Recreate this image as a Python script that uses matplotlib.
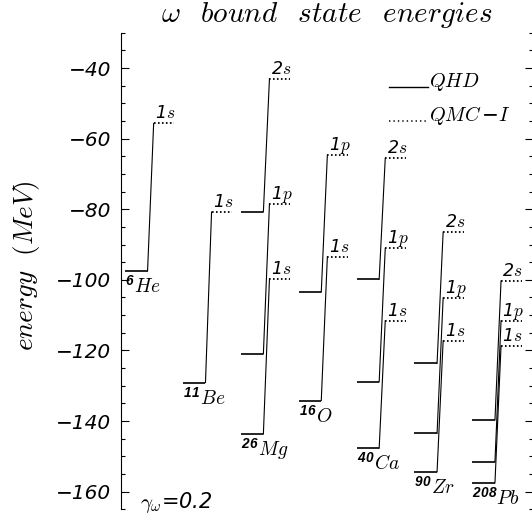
import matplotlib
matplotlib.use("Agg")
import matplotlib.pyplot as plt
from matplotlib.ticker import MultipleLocator

plt.rcParams['font.family'] = ['DejaVu Sans']
plt.rcParams['font.style'] = 'italic'
plt.rcParams['mathtext.fontset'] = 'custom'
plt.rcParams['mathtext.it'] = 'cmmi10'
plt.rcParams['mathtext.rm'] = 'DejaVu Sans:italic'
plt.rcParams['mathtext.bf'] = 'Liberation Sans:bold'
plt.rcParams['mathtext.sf'] = 'cmr10'
plt.rcParams['mathtext.fallback'] = 'cm'

# ---- data ----
nuclei = [r'$^{\mathbf{6}}He$', r'$^{\mathbf{11}}Be$', r'$^{\mathbf{26}}Mg$', r'$^{\mathbf{16}}O$',
          r'$^{\mathbf{40}}Ca$', r'$^{\mathbf{90}}Zr$', r'$^{\mathbf{208}}Pb$']
states = [['1s'], ['1s'], ['1s', '1p', '2s'], ['1s', '1p'],
          ['1s', '1p', '2s'], ['1s', '1p', '2s'], ['1s', '1p', '2s']]
qhd = [[-97.4], [-129.1], [-143.7, -121.0, -80.8], [-134.2, -103.5],
       [-147.7, -128.9, -99.9], [-154.4, -143.5, -123.7], [-157.5, -151.5, -139.7]]
qmc = [[-55.7], [-80.8], [-99.8, -78.5, -43.1], [-93.5, -64.7],
       [-111.6, -91.1, -65.6], [-117.3, -105.1, -86.5], [-118.7, -111.6, -100.3]]
yticks = [-160, -140, -120, -100, -80, -60, -40]
title = r'$\omega\ \ \,bound\ \ \,state\ \ \,energies$'
ylabel = r'$energy\ \ \mathsf{(}MeV\mathsf{)}$'
gamma_label = r'$\gamma_{\omega}$=0.2'

W, H = 532, 520
fig = plt.figure(figsize=(W / 100, H / 100), dpi=100)
ax = fig.add_axes([121 / W, 1 - 509.3 / H, (533 - 121) / W, 476.6 / H])
ax.set_xlim(-0.069, 7.047)
ax.set_ylim(-165, -30)

sw = 0.39      # solid level width
d0, d1 = 0.495, 0.85  # dotted level start / end

for i, name in enumerate(nuclei):
    for st, e1, e2 in zip(states[i], qhd[i], qmc[i]):
        ax.plot([i, i + sw], [e1, e1], color='black', lw=1.2, solid_capstyle='butt')
        ax.plot([i + sw, i + d0], [e1, e2], color='black', lw=0.8)
        ax.plot([i + d0, i + d1], [e2, e2], color='black', lw=1.3,
                linestyle=(0, (0.9, 1.3)), dash_capstyle='butt')
        ax.annotate(r'$%s$' % st, xy=(i + d0, e2), xytext=(1, 3.6),
                    textcoords='offset points', ha='left', va='baseline', fontsize=12.5)
    ax.annotate(name, xy=(i, min(qhd[i])), xytext=(0, -16),
                textcoords='offset points', ha='left', va='baseline', fontsize=14)

# legend
ax.plot([0.650, 0.745], [0.886, 0.886], color='black', lw=1.0, transform=ax.transAxes)
ax.text(0.748, 0.886, r'$QHD$', transform=ax.transAxes, ha='left', va='baseline', fontsize=14.5)
ax.plot([0.650, 0.745], [0.814, 0.814], color='black', lw=1.1, linestyle=(0, (0.9, 2.0)),
        transform=ax.transAxes)
ax.text(0.748, 0.814, r'$QMC\,{-}I$', transform=ax.transAxes, ha='left', va='baseline',
        fontsize=14.5)

ax.text(0.26, -164.6, gamma_label, ha='left', va='baseline', fontsize=15)

ax.set_yticks(yticks)
ax.yaxis.set_minor_locator(MultipleLocator(5))
ax.set_xticks([])
ax.tick_params(axis='y', which='both', direction='in', left=True, right=True, width=0.8)
ax.tick_params(axis='y', which='major', length=5.8, pad=7.2, labelsize=14.5)
ax.tick_params(axis='y', which='minor', length=2.9)
for lab in ax.get_yticklabels():
    lab.set_fontstyle('italic')
for s in ['top', 'bottom']:
    ax.spines[s].set_visible(False)
for s in ['left', 'right']:
    ax.spines[s].set_linewidth(0.8)

fig.text(0.5 * (121 + 533) / W, 1 - 21.5 / H, title, ha='center', va='baseline', fontsize=21)
fig.text(27 / W, 1 - 265.5 / H, ylabel, rotation=90, ha='center', va='center', fontsize=19.5)

fig.savefig('out.png', dpi=100)
